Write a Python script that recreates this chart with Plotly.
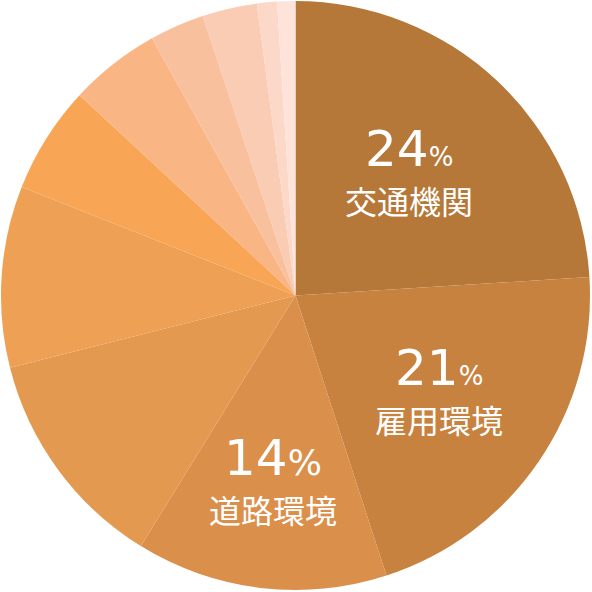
import math
import plotly.graph_objects as go

categories = ["交通機関", "雇用環境", "道路環境", "項目4", "項目5", "項目6",
              "項目7", "項目8", "項目9", "項目10", "項目11"]
values = [24.0, 21.0, 13.8, 12.25, 9.95, 5.9, 5.0, 3.0, 3.0, 1.1, 1.0]
pct_labels = ["24", "21", "14"]
colors = ["#B57838", "#C8823F", "#DA8F4B", "#E39950", "#EEA055", "#F8A655",
          "#F9B584", "#F9C09E", "#FACCB4", "#FCD8C8", "#FDE3DA"]
label_radius = [0.565, 0.59, 0.64]
pct_sign_size = [26, 26, 36]

fig = go.Figure(go.Pie(
    labels=categories, values=values, sort=False, direction="clockwise",
    rotation=0, marker=dict(colors=colors, line=dict(width=0)),
    textinfo="none", hoverinfo="label+percent", showlegend=False,
))

total = sum(values)
cum = 0.0
annotations = []
for i, v in enumerate(values):
    mid = (cum + v / 2) / total * 2 * math.pi
    cum += v
    if i >= len(pct_labels):
        continue
    f = label_radius[i]
    x = 0.5 + 0.5 * f * math.sin(mid)
    y = 0.5 + 0.5 * f * math.cos(mid)
    annotations.append(dict(
        x=x, y=y, xref="paper", yref="paper", showarrow=False, yshift=25,
        text=pct_labels[i] + "<span style='font-size:%dpx'>%%</span>" % pct_sign_size[i],
        font=dict(family="DejaVu Sans", size=50, color="white"),
        xanchor="center", yanchor="middle"))
    annotations.append(dict(
        x=x, y=y, xref="paper", yref="paper", showarrow=False, yshift=-26,
        text=categories[i],
        font=dict(family="Noto Sans CJK JP", size=32, color="white"),
        xanchor="center", yanchor="middle"))

fig.update_layout(
    width=592, height=592, margin=dict(l=1, r=2, t=1, b=2),
    paper_bgcolor="white", plot_bgcolor="white", annotations=annotations,
)
fig.write_html("out.html", config={"displayModeBar": False},
               post_script="document.body.style.margin='0';")
